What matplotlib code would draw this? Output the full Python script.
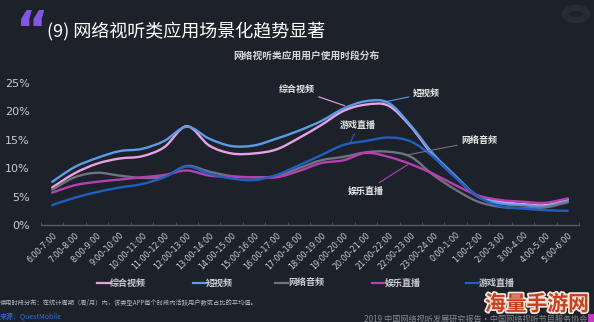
import numpy as np
import matplotlib
matplotlib.use("Agg")
import matplotlib.pyplot as plt
from matplotlib.path import Path
from matplotlib.patches import PathPatch, Circle, Rectangle
from matplotlib.lines import Line2D
import matplotlib.patheffects as pe

plt.rcParams['font.family'] = ['Noto Sans CJK SC', 'DejaVu Sans']

# time slots (6:00 -> 6:00 next day)
slots = ['6:00-7:00', '7:00-8:00', '8:00-9:00', '9:00-10:00', '10:00-11:00',
         '11:00-12:00', '12:00-13:00', '13:00-14:00', '14:00-15:00', '15:00-16:00',
         '16:00-17:00', '17:00-18:00', '18:00-19:00', '19:00-20:00', '20:00-21:00',
         '21:00-22:00', '22:00-23:00', '23:00-24:00', '0:00-1:00', '1:00-2:00',
         '2:00-3:00', '3:00-4:00', '4:00-5:00', '5:00-6:00']

# share of active users per slot, %
zonghe = [6.6, 9.1, 10.8, 11.7, 12.1, 13.7, 17.4, 14.0, 12.6, 12.6, 13.3, 15.3,
          17.6, 20.1, 21.2, 21.0, 17.3, 12.2, 8.4, 5.0, 4.1, 3.7, 3.5, 4.5]
duan = [7.6, 10.2, 11.8, 13.0, 13.4, 14.8, 17.3, 15.2, 13.9, 14.0, 15.2, 16.6,
        18.3, 20.5, 21.8, 21.5, 17.5, 12.5, 8.6, 5.0, 3.8, 3.5, 3.3, 4.2]
yinpin = [6.2, 8.4, 9.2, 8.7, 8.3, 8.5, 10.4, 9.4, 8.6, 8.4, 8.6, 10.0,
          11.4, 12.0, 12.8, 12.9, 12.0, 8.8, 6.2, 4.1, 3.2, 3.0, 3.1, 4.0]
yule = [5.7, 7.0, 7.6, 8.0, 8.4, 8.8, 9.6, 8.7, 8.5, 8.4, 8.4, 9.5,
        10.9, 11.4, 12.7, 12.0, 10.7, 9.0, 7.0, 5.2, 4.4, 4.1, 3.9, 4.7]
youxi = [3.5, 4.8, 5.8, 6.6, 7.2, 8.4, 10.3, 9.0, 8.2, 7.9, 8.8, 10.5,
         12.3, 14.1, 14.8, 15.4, 14.7, 12.0, 8.3, 5.0, 3.3, 2.9, 2.6, 2.5]

names = ['综合视频', '短视频', '网络音频', '娱乐直播', '游戏直播']
colors = ['#e8a2e4', '#5b9be8', '#6d737f', '#b73fb2', '#1f5fc2']
series = [zonghe, duan, yinpin, yule, youxi]

BG = '#1d222a'
TXT = '#c9ccd2'


def smooth_path(x, y):
    # catmull-rom through the points, drawn as cubic bezier segments
    x = np.asarray(x, float)
    y = np.asarray(y, float)
    verts = [(x[0], y[0])]
    codes = [Path.MOVETO]
    n = len(x)
    for i in range(n - 1):
        p0 = i - 1 if i > 0 else i
        p3 = i + 2 if i + 2 < n else i + 1
        c1 = (x[i] + (x[i + 1] - x[p0]) / 6, y[i] + (y[i + 1] - y[p0]) / 6)
        c2 = (x[i + 1] - (x[p3] - x[i]) / 6, y[i + 1] - (y[p3] - y[i]) / 6)
        verts += [c1, c2, (x[i + 1], y[i + 1])]
        codes += [Path.CURVE4] * 3
    return Path(verts, codes)


fig = plt.figure(figsize=(5.94, 3.22), dpi=100, facecolor=BG)
ax = fig.add_axes([41 / 594, 97 / 322, 538 / 594, 142 / 322])
ax.set_facecolor(BG)

fig.patches.append(Circle((576 / 594, 1 - 14 / 322), 0.019, transform=fig.transFigure,
                          fill=False, lw=4.5, ec='#272c34', zorder=0))

xs = np.arange(len(slots))
# draw back to front like the original
for k in [2, 3, 4, 0, 1]:
    ax.add_patch(PathPatch(smooth_path(xs, series[k]), fc='none', ec=colors[k],
                           lw=1.7, capstyle='round', joinstyle='round', zorder=3 + k))

ax.set_xlim(-0.5, len(slots) - 0.5)
ax.set_ylim(0, 25)
ax.set_yticks([0, 5, 10, 15, 20, 25])
ax.set_yticklabels([f'{v}%' for v in [0, 5, 10, 15, 20, 25]])
ax.set_xticks(xs)
ax.set_xticklabels(slots, rotation=45, ha='right', va='top', rotation_mode='anchor')
ax.set_xticks(np.arange(-0.5, len(slots)), minor=True)
ax.tick_params(axis='x', which='major', length=0, pad=4, labelsize=5.8, labelcolor=TXT)
ax.tick_params(axis='x', which='minor', length=2.5, direction='in', color='#555b66')
ax.tick_params(axis='y', length=0, pad=8, labelsize=8, labelcolor=TXT)
for lab in ax.get_xticklabels() + ax.get_yticklabels():
    lab.set_family('DejaVu Sans')
for s in ['top', 'right', 'left']:
    ax.spines[s].set_visible(False)
ax.spines['bottom'].set_color('#555b66')
ax.spines['bottom'].set_linewidth(1.0)

# callouts
notes = [
    (0, (10.9, 23.9), (13.05, 21.0)),
    (1, (16.7, 23.2), (14.75, 21.6)),
    (4, (13.65, 17.6), (13.3, 14.5)),
    (2, (19.05, 14.8), (15.8, 12.3)),
    (3, (14.0, 6.0), (15.85, 10.6)),
]
for k, txy, pxy in notes:
    ax.annotate(names[k], xy=pxy, xytext=txy, ha='center', va='center',
                fontsize=6.5, fontweight='bold', color='#e6e6e6',
                arrowprops=dict(arrowstyle='-', color=colors[k], lw=0.8,
                                shrinkA=1, shrinkB=0), zorder=10)

# title block
fig.text(16 / 594, 1 - 46 / 322, '\u201c', fontsize=36, fontweight='bold',
         color='#8457e3', va='baseline', ha='left', family='DejaVu Sans')
fig.text(47 / 594, 1 - 31 / 322, '(9) 网络视听类应用场景化趋势显著', fontsize=13,
         color='white', va='center', ha='left')
fig.text(233 / 594, 1 - 56 / 322, '网络视听类应用用户使用时段分布', fontsize=7,
         fontweight='bold', color='#d6d6d6', va='center', ha='left')

# legend
leg_x = [97, 193, 275, 372, 466]
for k in range(5):
    fig.add_artist(Line2D([leg_x[k] / 594, (leg_x[k] + 13) / 594],
                          [1 - 283 / 322] * 2, color=colors[k], lw=1.6,
                          transform=fig.transFigure))
    fig.text((leg_x[k] + 13) / 594, 1 - 283 / 322, names[k], fontsize=6.5,
             fontweight='bold', color=TXT, va='center', ha='left')

# footer
fig.text(0, 1 - 303 / 322, '使用时段分布：在统计周期（周/月）内，该类型APP每个时段内活跃用户数或占比的平均值。',
         fontsize=4.5, color='#b4b8c0', va='center', ha='left')
fig.text(0, 1 - 317 / 322, '来源：QuestMobile', fontsize=5, color='#2f6fd6',
         va='center', ha='left')
fig.text(587 / 594, 1 - 319 / 322, '2019 中国网络视听发展研究报告·中国网络视听节目服务协会',
         fontsize=5.9, color='#80858e', va='center', ha='right')
fig.patches.append(Rectangle((588 / 594, 0), 6 / 594, 8 / 322, transform=fig.transFigure,
                             fc='#c23cc0', ec='none'))
fig.text(537 / 594, 1 - 304 / 322, '海量手游网', fontsize=15, fontweight='bold',
         color='#c9401c', va='center', ha='center',
         path_effects=[pe.withStroke(linewidth=2.5, foreground='#f2e6e0')])

fig.savefig('out.png', dpi=100, facecolor=BG)
